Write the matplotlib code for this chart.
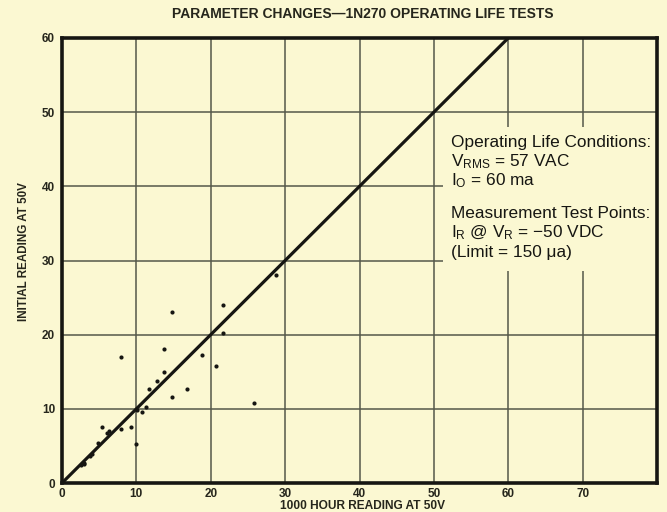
import numpy as np
import matplotlib
matplotlib.use("Agg")
import matplotlib.pyplot as plt
from matplotlib.patches import Rectangle

# ======================================================
# Life test readings (1000 hr vs initial, at 50 V)
# ======================================================
HOURS_1000 = [28.8, 21.6, 14.8, 7.9, 13.7, 18.8, 20.7, 13.7, 12.8, 11.7,
              16.8, 14.8, 25.8, 11.3, 10.8, 5.4, 6.0, 6.3, 9.3, 7.9,
              4.8, 9.9, 4.0, 3.7, 3.0, 2.6, 2.9, 21.6, 10.1]
INITIAL = [28.0, 24.0, 23.0, 17.0, 18.1, 17.3, 15.8, 15.0, 13.7, 12.7,
           12.7, 11.6, 10.8, 10.2, 9.6, 7.5, 6.7, 7.0, 7.5, 7.3,
           5.4, 5.2, 3.9, 3.7, 2.7, 2.4, 2.5, 20.2, 9.9]

# reference line initial == 1000 hr
REF_LINE = [0, 60]

X_TICKS = [0, 10, 20, 30, 40, 50, 60, 70]
Y_TICKS = [0, 10, 20, 30, 40, 50, 60]

NOTE_LINES = [
    "Operating Life Conditions:",
    r"V$_{\rm RMS}$ = 57 VAC",
    r"I$_{\rm O}$ = 60 ma",
    "Measurement Test Points:",
    r"I$_{\rm R}$ @ V$_{\rm R}$ = −50 VDC",
    "(Limit = 150 μa)",
]

PAPER = "#fbf8d2"
INK = "#161612"
GRID = "#55584a"
LABEL = "#26261c"

plt.rcParams["mathtext.fontset"] = "custom"
plt.rcParams["mathtext.rm"] = "Liberation Sans"
plt.rcParams["mathtext.it"] = "Liberation Sans"
BOLD_FONT = ["Liberation Sans", "DejaVu Sans"]


def main():
    fig = plt.figure(figsize=(6.67, 5.12), dpi=100, facecolor=PAPER)
    ax = fig.add_axes([62 / 667, 1 - 483 / 512, 595 / 667, 445 / 512])
    ax.set_facecolor(PAPER)

    ax.set_xlim(0, 80)
    ax.set_ylim(0, 60)

    # grid every 10 units
    for x in range(10, 80, 10):
        ax.axvline(x, color=GRID, lw=1.1, zorder=1)
    for y in range(10, 60, 10):
        ax.axhline(y, color=GRID, lw=1.1, zorder=1)

    # blank area behind the notes
    ax.add_patch(Rectangle((51.2, 28.6), 28.8, 19.4, facecolor=PAPER,
                           edgecolor="none", zorder=2))

    ax.plot(REF_LINE, REF_LINE, color=INK, lw=2.3, zorder=3,
            solid_capstyle="butt")
    ax.plot(HOURS_1000, INITIAL, "o", color=INK, ms=3.0, mew=0, zorder=4)

    for side in ["left", "bottom", "top", "right"]:
        ax.spines[side].set_linewidth(2.6)
        ax.spines[side].set_color(INK)
        ax.spines[side].set_zorder(5)

    ax.set_xticks(X_TICKS)
    ax.set_yticks(Y_TICKS)
    ax.set_xticklabels([str(t) for t in X_TICKS])
    ax.set_yticklabels([str(t) for t in Y_TICKS])
    ax.tick_params(axis="x", length=0, pad=3.5)
    ax.tick_params(axis="y", length=0, pad=5)
    for lab in ax.get_xticklabels() + ax.get_yticklabels():
        lab.set_family(BOLD_FONT)
        lab.set_fontweight("bold")
        lab.set_fontsize(8.5)
        lab.set_color(LABEL)

    fig.text(363 / 667, 1 - 14 / 512, "PARAMETER CHANGES—1N270 OPERATING LIFE TESTS",
             ha="center", va="center", family=BOLD_FONT, fontweight="bold",
             fontsize=10, color=LABEL)
    fig.text(362 / 667, 1 - 506 / 512, "1000 HOUR READING AT 50V",
             ha="center", va="center", family=BOLD_FONT, fontweight="bold",
             fontsize=8.6, color=LABEL)
    fig.text(24 / 667, 1 - 252 / 512, "INITIAL READING AT 50V", rotation=90,
             ha="center", va="center", family=BOLD_FONT, fontweight="bold",
             fontsize=8.4, color=LABEL)

    note_y = [142, 162, 181, 213, 233, 252]
    for txt, py in zip(NOTE_LINES, note_y):
        fig.text(451 / 667, 1 - py / 512, txt, ha="left", va="center",
                 family="Liberation Sans", fontsize=12.4, color=INK)

    fig.savefig("out.png", dpi=100, facecolor=PAPER)
    plt.close(fig)


if __name__ == "__main__":
    main()
